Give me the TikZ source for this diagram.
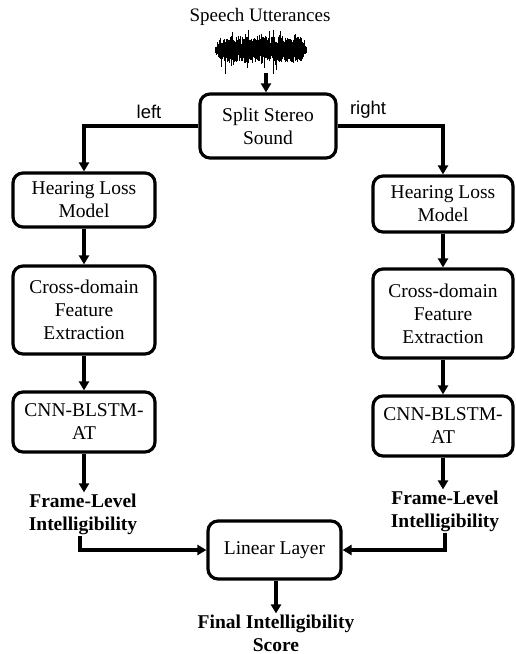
\documentclass[tikz,border=0pt]{standalone}
\usepackage{fontspec}
\setmainfont{Liberation Serif}
\newfontfamily\labfont{Liberation Sans}
\usetikzlibrary{arrows.meta,calc}
\begin{document}
\begin{tikzpicture}[x=1pt,y=-1pt,
  blk/.style={draw,line width=3.2pt,rounded corners=10pt,align=center,
    font=\fontsize{19.5}{23}\selectfont,inner sep=0pt},
  lbl/.style={align=center,font=\fontsize{19.5}{23}\selectfont\bfseries,inner sep=1pt},
  side/.style={font=\labfont\fontsize{18.5}{22}\selectfont,inner sep=0pt},
  arr/.style={line width=3.2pt,-{Triangle[length=9pt,width=10pt]}}]
\path[use as bounding box] (0,0) rectangle (515,654);

% title and waveform
\node[font=\fontsize{19}{22}\selectfont,inner sep=0pt] (speech) at (260,17) {Speech Utterances};
\pgfmathsetseed{11}
\foreach \i in {0,...,182}{
  \pgfmathsetmacro\xx{215+\i*0.5}
  \pgfmathsetmacro\tp{min(1,min((\i+4)/14,(186-\i)/14))}
  \pgfmathsetmacro\au{\tp*((rnd>0.88)*10*rnd+5+9*rnd)}
  \pgfmathsetmacro\ad{\tp*((rnd>0.9)*12*rnd+5+8*rnd)}
  \draw[line width=0.8pt] (\xx,50-\au) -- (\xx,50+\ad);
}
\coordinate (wv) at (266,73);

% boxes
\node[blk,minimum width=136pt,minimum height=64pt] (split) at (268,126) {Split Stereo\\Sound};
\node[blk,minimum width=142pt,minimum height=54pt] (hlL) at (84,200) {Hearing Loss\\Model};
\node[blk,minimum width=142pt,minimum height=88pt] (cfL) at (84,310) {Cross-domain\\Feature\\Extraction};
\node[blk,minimum width=142pt,minimum height=60pt] (cnnL) at (84,422) {CNN-BLSTM-\\AT};
\node[blk,minimum width=140pt,minimum height=56pt] (hlR) at (443,204) {Hearing Loss\\Model};
\node[blk,minimum width=140pt,minimum height=89pt] (cfR) at (443,313.5) {Cross-domain\\Feature\\Extraction};
\node[blk,minimum width=140pt,minimum height=60pt] (cnnR) at (443,426) {CNN-BLSTM-\\AT};
\node[blk,minimum width=133pt,minimum height=58pt] (lin) at (274.5,550) {Linear Layer};

% bold labels
\node[lbl] (flL) at (83,514) {Frame-Level\\Intelligibility};
\node[lbl] (flR) at (445,511) {Frame-Level\\Intelligibility};
\node[lbl] (fin) at (276,633) {Final Intelligibility\\Score};

% side labels
\node[side] (lleft) at (149,112) {left};
\node[side] (lright) at (368,110) {right};

% connectors
\draw[arr] (wv) -- (wv |- split.north);
\draw[arr] (split.west) -| (hlL.north);
\draw[arr] (split.east) -| (hlR.north);
\draw[arr] (hlL) -- (cfL);
\draw[arr] (cfL) -- (cnnL);
\draw[arr] (hlR) -- (cfR);
\draw[arr] (cfR) -- (cnnR);
\draw[arr] (cnnL.south) -- (cnnL.south |- flL.north);
\draw[arr] (cnnR.south) -- (cnnR.south |- flR.north);
\draw[arr] ([xshift=-3pt]flL.south) |- (lin.west);
\draw[arr] (flR.south) |- (lin.east);
\draw[arr] ([xshift=1.5pt]lin.south) -- ([xshift=1.5pt]lin.south |- fin.north);
\end{tikzpicture}
\end{document}
